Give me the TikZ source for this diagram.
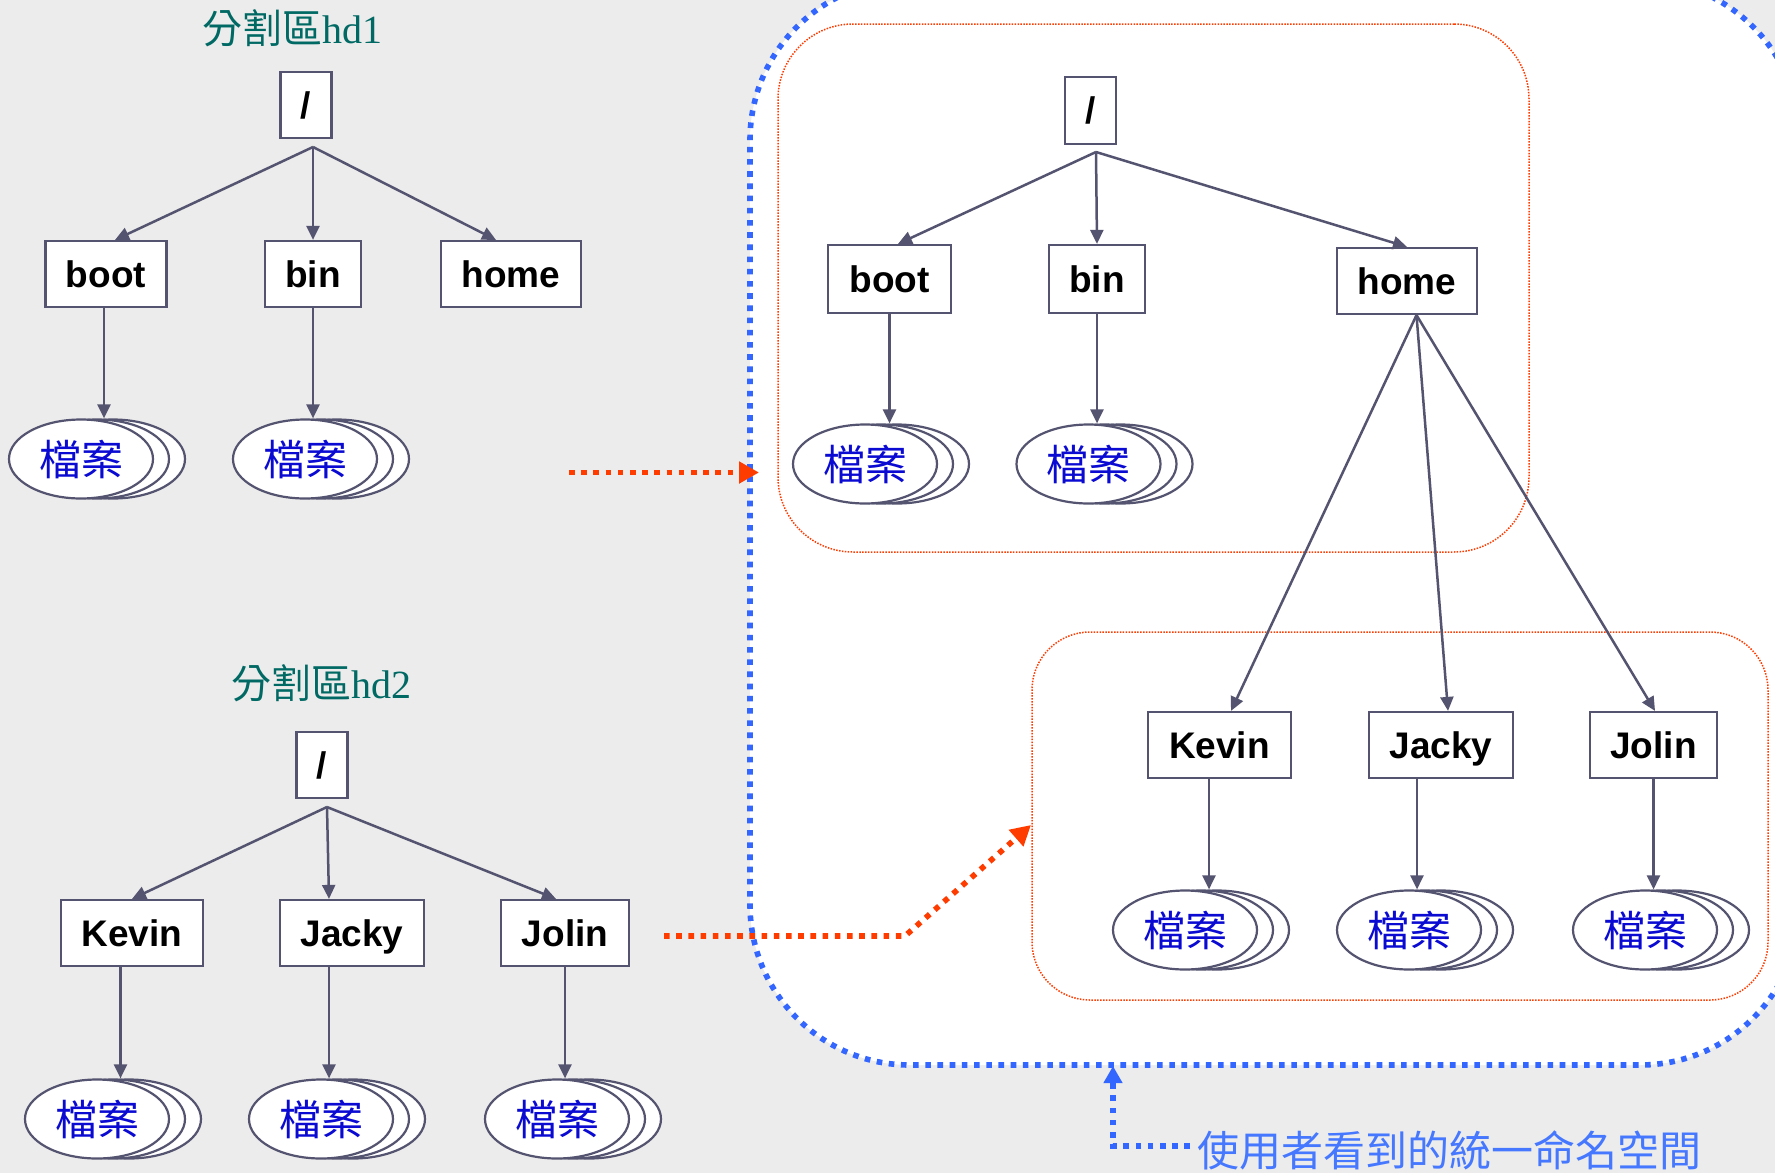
\documentclass[tikz,border=0pt]{standalone}
\usepackage{fontspec}
\setmainfont{Liberation Sans}
\newfontfamily\cjk{Noto Sans CJK TC}
\newfontfamily\serifnum{Liberation Serif}
\usetikzlibrary{arrows.meta,shapes.geometric,calc}
\definecolor{lineC}{RGB}{84,84,112}
\definecolor{redC}{RGB}{255,60,0}
\definecolor{blueC}{RGB}{51,102,255}
\definecolor{tealC}{RGB}{0,105,100}
\definecolor{fileC}{RGB}{10,10,210}
\definecolor{bgC}{RGB}{236,236,236}
\definecolor{noteC}{RGB}{70,120,255}
\tikzset{
  filestack/.pic={
    \draw[fileline] (32,0) ellipse [x radius=72, y radius=39.5];
    \draw[fileline] (16,0) ellipse [x radius=72, y radius=39.5];
    \node[fileell] (-e) at (0,0) {檔案};
  }
}
\begin{document}
\begin{tikzpicture}[x=1pt,y=-1pt,
  dirbox/.style={draw=lineC, fill=white, line width=2.2pt, minimum height=66pt,
    inner sep=0pt, font=\bfseries\fontsize{37}{37}\selectfont,
    text height=28pt, text depth=2pt},
  conn/.style={draw=lineC, line width=2.5pt, -{Triangle[length=14pt,width=13pt]}},
  fileline/.style={draw=lineC, fill=white, line width=2.2pt},
  fileell/.style={ellipse, draw=lineC, fill=white, line width=2.2pt,
    minimum width=144pt, minimum height=79pt, inner sep=0pt, text=fileC,
    font=\cjk\fontsize{42}{42}\selectfont},
  titletext/.style={text=tealC, font=\fontsize{40}{40}\selectfont, inner sep=0pt, anchor=base},
  redarrow/.style={draw=redC, line width=5.6pt, dash pattern=on 5.6pt off 6.6pt,
    -{Triangle[length=20pt,width=21pt]}},
  bluearrow/.style={draw=blueC, line width=5.6pt, dash pattern=on 5.6pt off 6.6pt,
    -{Triangle[length=17pt,width=18pt]}},
  bluebox/.style={draw=blueC, fill=white, line width=5.6pt, dash pattern=on 5.6pt off 6.6pt,
    rounded corners=160pt, inner sep=0pt},
  redbox/.style={draw=redC, line width=1.5pt, dash pattern=on 1.5pt off 1.4pt, inner sep=0pt},
]
\useasboundingbox (0,0) rectangle (1775,1173);
\clip (0,0) rectangle (1775,1173);
\fill[bgC] (0,0) rectangle (1775,1173);

% unified namespace container
\node[bluebox, minimum width=1050pt, minimum height=1085pt] (space) at (1275,522.5) {};
\node[redbox, rounded corners=75pt, minimum width=751pt, minimum height=528pt] (redA) at (1153.5,288) {};
\node[redbox, rounded corners=58pt, minimum width=736pt, minimum height=368pt] (redB) at (1400,816) {};

% ---------------- partition hd1 ----------------
\node[titletext] (t1) at (292,43) {{\cjk 分割區}{\serifnum hd1}};
\node[dirbox, minimum width=51pt] (r1) at (306,105) {/};
\coordinate (f1) at (313,147);
\node[dirbox, minimum width=121pt] (boot1) at (106,274) {boot};
\node[dirbox, minimum width=96pt]  (bin1)  at (313,274) {bin};
\node[dirbox, minimum width=140pt] (home1) at (511,274) {home};
\pic (fa1) at (81,459) {filestack};
\pic (fb1) at (305,459) {filestack};
\draw[conn] (f1) -- ([xshift=9pt]boot1.north);
\draw[conn] (f1) -- (bin1.north);
\draw[conn] (f1) -- ([xshift=-15pt]home1.north);
\draw[conn] ([xshift=-2pt]boot1.south) -- ([xshift=-2pt]boot1.south |- fa1-e.north);
\draw[conn] (bin1.south) -- (bin1.south |- fb1-e.north);

% ---------------- partition hd2 ----------------
\node[titletext] (t2) at (321,698) {{\cjk 分割區}{\serifnum hd2}};
\node[dirbox, minimum width=51pt] (r2) at (322,765) {/};
\coordinate (f2) at (327,807);
\node[dirbox, minimum width=142pt] (kevin2) at (132,933) {Kevin};
\node[dirbox, minimum width=144pt] (jacky2) at (352,933) {Jacky};
\node[dirbox, minimum width=128pt] (jolin2) at (565,933) {Jolin};
\pic (fk2) at (97,1119) {filestack};
\pic (fj2) at (321,1119) {filestack};
\pic (fl2) at (557,1119) {filestack};
\draw[conn] (f2) -- (kevin2.north);
\draw[conn] (f2) -- ([xshift=-23pt]jacky2.north);
\draw[conn] (f2) -- ([xshift=-9pt]jolin2.north);
\draw[conn] ([xshift=-11.5pt]kevin2.south) -- ([xshift=-11.5pt]kevin2.south |- fk2-e.north);
\draw[conn] ([xshift=-23pt]jacky2.south) -- ([xshift=-23pt]jacky2.south |- fj2-e.north);
\draw[conn] (jolin2.south) -- (jolin2.south |- fl2-e.north);

% ---------------- unified tree ----------------
\node[dirbox, minimum width=51pt, minimum height=67pt] (r3) at (1090.5,110.5) {/};
\coordinate (f3) at (1096,152);
\node[dirbox, minimum width=123pt, minimum height=68pt] (boot3) at (889.5,279) {boot};
\node[dirbox, minimum width=96pt, minimum height=68pt]  (bin3)  at (1097,279) {bin};
\node[dirbox, minimum width=140pt] (home3) at (1407,281) {home};
\pic (fa3) at (865,464) {filestack};
\pic (fb3) at (1088.5,464) {filestack};
\draw[conn] (f3) -- ([xshift=8.5pt]boot3.north);
\draw[conn] (f3) -- (bin3.north);
\draw[conn] (f3) -- (home3.north);
\draw[conn] (boot3.south) -- (boot3.south |- fa3-e.north);
\draw[conn] (bin3.south) -- (bin3.south |- fb3-e.north);

\coordinate (f4) at ([xshift=9.5pt]home3.south);
\node[dirbox, minimum width=143pt] (kevin3) at (1219.5,745) {Kevin};
\node[dirbox, minimum width=144pt] (jacky3) at (1441,745) {Jacky};
\node[dirbox, minimum width=127pt] (jolin3) at (1653.5,745) {Jolin};
\pic (fk3) at (1185,930) {filestack};
\pic (fj3) at (1409,930) {filestack};
\pic (fl3) at (1645,930) {filestack};
\draw[conn] (f4) -- ([xshift=11.5pt]kevin3.north);
\draw[conn] (f4) -- ([xshift=7pt]jacky3.north);
\draw[conn] (f4) -- ([xshift=1.5pt]jolin3.north);
\draw[conn] ([xshift=-10.5pt]kevin3.south) -- ([xshift=-10.5pt]kevin3.south |- fk3-e.north);
\draw[conn] ([xshift=-24pt]jacky3.south) -- ([xshift=-24pt]jacky3.south |- fj3-e.north);
\draw[conn] (jolin3.south) -- (jolin3.south |- fl3-e.north);

% ---------------- mount arrows ----------------
\coordinate (m1s) at (569,472.5);
\coordinate (m1e) at (759,472.5);
\draw[redarrow] (m1s) -- (m1e);
\coordinate (m2s) at (664,936);
\coordinate (m2b) at (905,936);
\coordinate (m2e) at (1031,825);
\draw[redarrow] (m2s) -- (m2b) -- (m2e);

% ---------------- note ----------------
\node[anchor=base west, inner sep=0pt, text=noteC, font=\cjk\fontsize{42}{42}\selectfont]
  (note) at (1197,1166) {使用者看到的統一命名空間};
\coordinate (nstart) at (1190,1146);
\coordinate (ntip) at (1113,1066);
\draw[bluearrow] (nstart) -| (ntip);
\end{tikzpicture}
\end{document}
